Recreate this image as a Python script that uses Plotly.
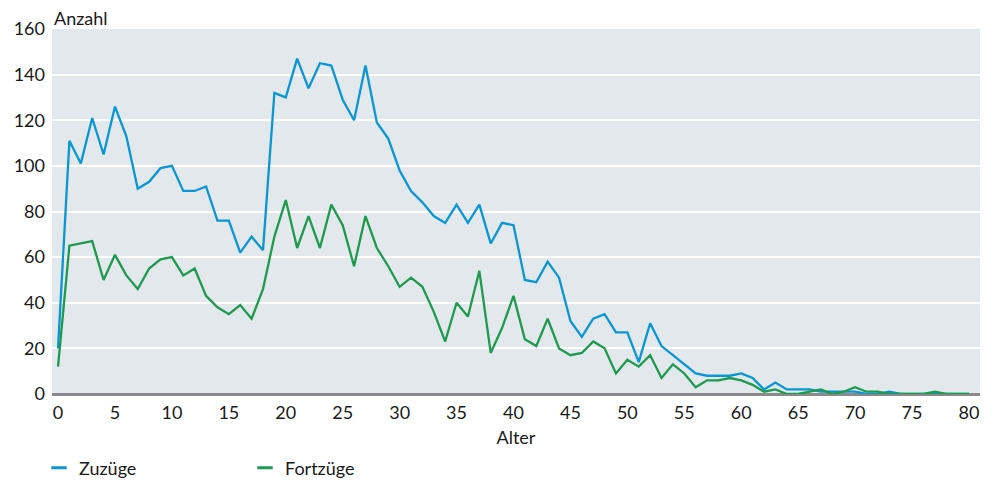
import plotly.graph_objects as go

alter = list(range(0, 81))
zuzuege = [20, 111, 101, 121, 105, 126, 113, 90, 93, 99, 100, 89, 89, 91, 76, 76, 62, 69, 63, 132,
           130, 147, 134, 145, 144, 129, 120, 144, 119, 112, 98, 89, 84, 78, 75, 83, 75, 83, 66, 75,
           74, 50, 49, 58, 51, 32, 25, 33, 35, 27, 27, 14, 31, 21, 17, 13, 9, 8, 8, 8,
           9, 7, 2, 5, 2, 2, 2, 1, 1, 1, 1, 0, 0, 1, 0, 0, 0, 0, 0, 0, 0]
fortzuege = [12, 65, 66, 67, 50, 61, 52, 46, 55, 59, 60, 52, 55, 43, 38, 35, 39, 33, 46, 69,
             85, 64, 78, 64, 83, 74, 56, 78, 64, 56, 47, 51, 47, 36, 23, 40, 34, 54, 18, 29,
             43, 24, 21, 33, 20, 17, 18, 23, 20, 9, 15, 12, 17, 7, 13, 9, 3, 6, 6, 7,
             6, 4, 1, 2, 0, 0, 1, 2, 0, 1, 3, 1, 1, 0, 0, 0, 0, 1, 0, 0, 0]
series_names = ["Zuzüge", "Fortzüge"]
series_colors = ["#0a96d2", "#1e9a4f"]
x_ticks = list(range(0, 81, 5))
y_ticks = list(range(0, 161, 20))

FONT = "Lato, Source Sans Pro, Noto Sans, sans-serif"
FS = 18

fig = go.Figure()
for name, vals, col in zip(series_names, [zuzuege, fortzuege], series_colors):
    fig.add_trace(go.Scatter(x=alter, y=vals, mode="lines", name=name, showlegend=False,
                             line=dict(color=col, width=2.3)))
# legend entries with short dash symbols
for name, col in zip(series_names, series_colors):
    fig.add_trace(go.Scatter(x=[None], y=[None], mode="markers", name=name,
                             marker=dict(symbol="line-ew", size=11, color=col,
                                         line=dict(color=col, width=3))))

# page body has an 8px default margin, so the figure is sized to compensate
fig.update_layout(
    width=986, height=475,
    margin=dict(l=44, r=14, t=21, b=89, autoexpand=False),
    paper_bgcolor="white",
    plot_bgcolor="#e3e8ec",
    font=dict(family=FONT, size=FS, color="#1a1a1a"),
    showlegend=True,
    legend=dict(orientation="h", x=-0.014, xanchor="left", y=-0.203, yanchor="middle",
                entrywidth=161, entrywidthmode="pixels", itemwidth=30,
                font=dict(size=FS), bgcolor="rgba(0,0,0,0)"),
    xaxis=dict(range=[-0.53, 80.97], tickvals=x_ticks, showgrid=False, zeroline=False,
               showline=False, ticks="", tickfont=dict(size=FS), automargin=False,
               ticklabelstandoff=6,
               title=dict(text="Alter", standoff=9, font=dict(size=FS))),
    yaxis=dict(range=[0, 160], tickvals=y_ticks, showgrid=True, gridcolor="white",
               gridwidth=2, zeroline=True, zerolinecolor="#8a8a8a", zerolinewidth=3,
               showline=False, ticks="", tickfont=dict(size=FS), ticklabelstandoff=6,
               automargin=False),
    annotations=[dict(text="Anzahl", xref="paper", yref="paper", x=0, y=1,
                      xanchor="left", yanchor="bottom", showarrow=False,
                      font=dict(size=FS), xshift=0, yshift=-2)],
)

fig.write_html("out.html")
